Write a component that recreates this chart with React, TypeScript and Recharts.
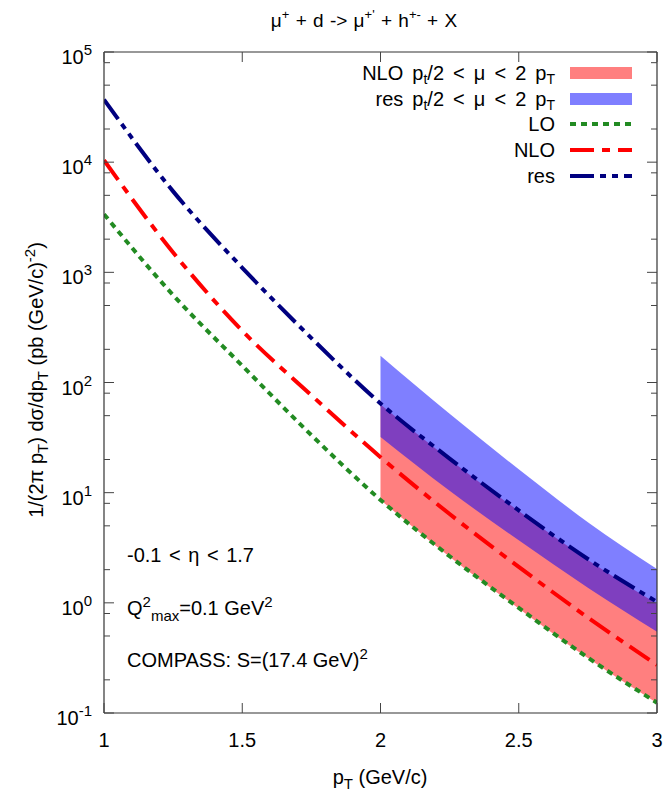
import React from 'react';
import { ComposedChart, Line, Area, XAxis, YAxis, Legend } from 'recharts';

// chart frame (gnuplot-like box), in px
const W = 668;
const H = 794;
const LEFT = 104;
const RIGHT = 657;
const TOP = 52;
const BOTTOM = 713;
const FONT = '"Liberation Sans", Arial, Helvetica, sans-serif';

// values
const PT = [1, 1.25, 1.5, 1.75, 2, 2.25, 2.5, 2.75, 3];
const LO = [3370, 621, 142, 33.3, 8.6, 2.65, 0.9, 0.318, 0.124];
const NLO = [10400, 1514, 295, 76.7, 21.0, 6.4, 2.12, 0.735, 0.273];
const RES = [37000, 5430, 1100, 253, 64.5, 20.4, 6.9, 2.5, 1.02];
// scale bands pt/2 < mu < 2 pT, only from pT = 2
const NLO_BAND_LO = [null, null, null, null, 8.6, 2.62, 0.89, 0.315, 0.123];
const NLO_BAND_HI = [null, null, null, null, 63, 20, 6.8, 2.45, 0.98];
const RES_BAND_LO = [null, null, null, null, 32, 10.4, 3.69, 1.37, 0.546];
const RES_BAND_HI = [null, null, null, null, 175, 52, 16.3, 5.4, 2.03];

const X_TICKS = [1, 1.5, 2, 2.5, 3];
const Y_MAJOR = [0.1, 1, 10, 100, 1000, 10000, 100000];
const Y_MINOR = [0.2, 0.5, 0.8, 2, 5, 8, 20, 50, 80, 200, 500, 800, 2000, 5000, 8000, 20000, 50000, 80000];
const Y_TICKS = [...Y_MAJOR, ...Y_MINOR];

const COLORS = { lo: '#228b22', nlo: '#ff0000', res: '#000080', nloBand: '#ff0000', resBand: '#0000ff' };
const DASH = { lo: '6 5', nlo: '24 8 8 8', res: '24 6 6 6 6 6' };

const rows = PT.map((pt, i) => ({
  pt,
  lo: LO[i],
  nlo: NLO[i],
  res: RES[i],
  nloBand: NLO_BAND_LO[i] == null ? null : [NLO_BAND_LO[i], NLO_BAND_HI[i]],
  resBand: RES_BAND_LO[i] == null ? null : [RES_BAND_LO[i], RES_BAND_HI[i]],
}));

const sub = (s: string) => <sub style={{ fontSize: 14, verticalAlign: '-4px', lineHeight: 0 }}>{s}</sub>;

const LEGEND_ITEMS = [
  { key: 'nloBand', band: true, label: <>NLO p{sub('t')}/2 &lt; μ &lt; 2 p{sub('T')}</> },
  { key: 'resBand', band: true, label: <>res p{sub('t')}/2 &lt; μ &lt; 2 p{sub('T')}</> },
  { key: 'lo', band: false, label: <>LO</> },
  { key: 'nlo', band: false, label: <>NLO</> },
  { key: 'res', band: false, label: <>res</> },
];

function LegendBox() {
  return (
    <div style={{ fontFamily: FONT, fontSize: 20, color: '#000' }}>
      {LEGEND_ITEMS.map((it) => (
        <div key={it.key} style={{ display: 'flex', justifyContent: 'flex-end', alignItems: 'center', height: 25.7, lineHeight: '20px', wordSpacing: 3.5 }}>
          <span>{it.label}</span>
          <svg width={62} height={14} style={{ marginLeft: 15 }}>
            {it.band ? (
              <rect x={0} y={1} width={62} height={12} fill={COLORS[it.key]} fillOpacity={0.5} />
            ) : (
              <line x1={0} x2={62} y1={7} y2={7} stroke={COLORS[it.key]} strokeWidth={4} strokeDasharray={DASH[it.key]} />
            )}
          </svg>
        </div>
      ))}
    </div>
  );
}

const LeftTick = (props: any) => {
  const { y, payload } = props;
  const v = payload.value;
  const major = Y_MAJOR.includes(v);
  const exp = Math.round(Math.log10(v));
  return (
    <g>
      <line x1={LEFT} x2={LEFT + (major ? 10 : 6)} y1={y} y2={y} stroke="#444" strokeWidth={1} />
      {major && (
        <text x={LEFT - 12} y={y + 12} textAnchor="end" fontSize={20} fontFamily={FONT} fill="#000">
          10<tspan dy={-9} fontSize={15}>{exp}</tspan>
        </text>
      )}
    </g>
  );
};

const RightTick = (props: any) => {
  const { y, payload } = props;
  const major = Y_MAJOR.includes(payload.value);
  return <line x1={RIGHT - (major ? 10 : 6)} x2={RIGHT} y1={y} y2={y} stroke="#444" strokeWidth={1} />;
};

const BottomTick = (props: any) => {
  const { x, payload } = props;
  return (
    <g>
      <line x1={x} x2={x} y1={BOTTOM} y2={BOTTOM - 10} stroke="#444" strokeWidth={1} />
      <text x={x} y={BOTTOM + 34} textAnchor="middle" fontSize={20} fontFamily={FONT} fill="#000">
        {payload.value}
      </text>
    </g>
  );
};

const TopTick = (props: any) => {
  const { x } = props;
  return <line x1={x} x2={x} y1={TOP} y2={TOP + 10} stroke="#444" strokeWidth={1} />;
};

function Overlay() {
  return (
    <svg width={W} height={H} style={{ position: 'absolute', left: 0, top: 0, pointerEvents: 'none' }} fontFamily={FONT} fill="#000">
      <text x={364} y={27} textAnchor="middle" fontSize={19} wordSpacing={1}>
        μ<tspan dy={-8} fontSize={13}>+</tspan>
        <tspan dy={8}> + d -&gt; μ</tspan>
        <tspan dy={-8} fontSize={13}>+'</tspan>
        <tspan dy={8}> + h</tspan>
        <tspan dy={-8} fontSize={13}>+-</tspan>
        <tspan dy={8}> + X</tspan>
      </text>

      <text x={127} y={562} fontSize={20} wordSpacing={2}>-0.1 &lt; η &lt; 1.7</text>
      <text x={127} y={615} fontSize={20}>
        Q<tspan dy={-8} fontSize={15}>2</tspan>
        <tspan dy={14} fontSize={15}>max</tspan>
        <tspan dy={-6}>=0.1 GeV</tspan>
        <tspan dy={-8} fontSize={15}>2</tspan>
      </text>
      <text x={127} y={667} fontSize={20}>
        COMPASS: S=(17.4 GeV)<tspan dy={-8} fontSize={15}>2</tspan>
      </text>

      <text x={380} y={784} textAnchor="middle" fontSize={20}>
        p<tspan dy={5} fontSize={15}>T</tspan>
        <tspan dy={-5}> (GeV/c)</tspan>
      </text>

      <text transform="translate(43,380) rotate(-90)" textAnchor="middle" fontSize={20}>
        1/(2π p<tspan dy={5} fontSize={15}>T</tspan>
        <tspan dy={-5}>) dσ/dp</tspan>
        <tspan dy={5} fontSize={15}>T</tspan>
        <tspan dy={-5}> (pb (GeV/c)</tspan>
        <tspan dy={-8} fontSize={15}>-2</tspan>
        <tspan dy={8}>)</tspan>
      </text>
    </svg>
  );
}

export default function App() {
  return (
    <div style={{ position: 'absolute', left: 0, top: 0, width: W, height: H, background: '#fff' }}>
      <ComposedChart width={W} height={H} data={rows} margin={{ top: 0, right: 0, bottom: 0, left: 0 }}>
        <XAxis xAxisId="b" dataKey="pt" type="number" domain={[1, 3]} ticks={X_TICKS} interval={0}
          height={H - BOTTOM} tick={<BottomTick />} tickLine={false}
          axisLine={{ stroke: '#333', strokeWidth: 1.2 }} allowDataOverflow />
        <XAxis xAxisId="t" orientation="top" dataKey="pt" type="number" domain={[1, 3]} ticks={X_TICKS} interval={0}
          height={TOP} tick={<TopTick />} tickLine={false}
          axisLine={{ stroke: '#333', strokeWidth: 1.2 }} allowDataOverflow />
        <YAxis yAxisId="l" type="number" scale="log" domain={[0.1, 100000]} ticks={Y_TICKS} interval={0}
          width={LEFT} tick={<LeftTick />} tickLine={false}
          axisLine={{ stroke: '#333', strokeWidth: 1.2 }} allowDataOverflow />
        <YAxis yAxisId="r" orientation="right" type="number" scale="log" domain={[0.1, 100000]} ticks={Y_TICKS} interval={0}
          width={W - RIGHT} tick={<RightTick />} tickLine={false}
          axisLine={{ stroke: '#333', strokeWidth: 1.2 }} allowDataOverflow />

        <Area xAxisId="b" yAxisId="l" dataKey="nloBand" type="monotone" stroke="none"
          fill={COLORS.nloBand} fillOpacity={0.5} isAnimationActive={false} />
        <Area xAxisId="b" yAxisId="l" dataKey="resBand" type="monotone" stroke="none"
          fill={COLORS.resBand} fillOpacity={0.5} isAnimationActive={false} />
        <Line xAxisId="b" yAxisId="l" dataKey="lo" type="monotone" stroke={COLORS.lo} strokeWidth={4}
          strokeDasharray={DASH.lo} dot={false} isAnimationActive={false} />
        <Line xAxisId="b" yAxisId="l" dataKey="nlo" type="monotone" stroke={COLORS.nlo} strokeWidth={4}
          strokeDasharray={DASH.nlo} dot={false} isAnimationActive={false} />
        <Line xAxisId="b" yAxisId="l" dataKey="res" type="monotone" stroke={COLORS.res} strokeWidth={4}
          strokeDasharray={DASH.res} dot={false} isAnimationActive={false} />

        <Legend layout="vertical" align="center" verticalAlign="middle" content={<LegendBox />}
          wrapperStyle={{ position: 'absolute', left: 232, top: 60, width: 400, height: 130 }} />
      </ComposedChart>
      <Overlay />
    </div>
  );
}
